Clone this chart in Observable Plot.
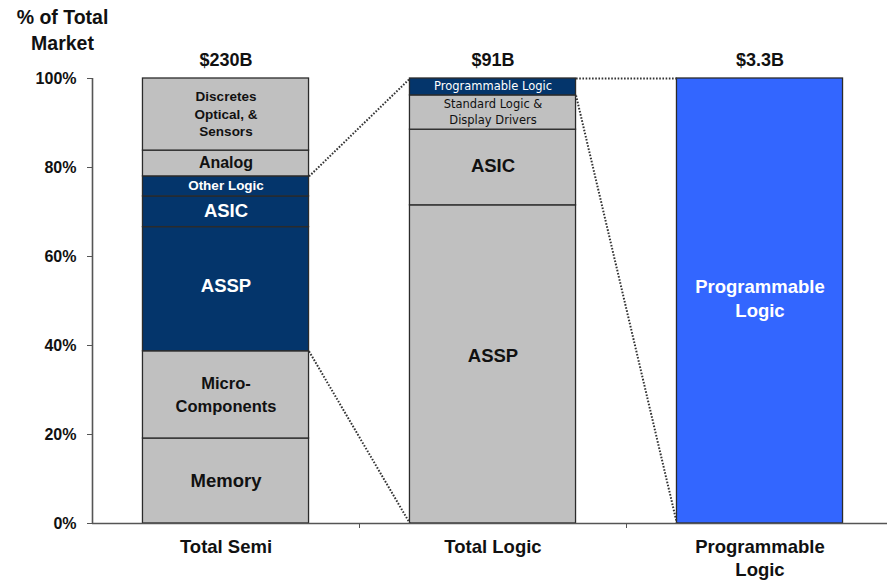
<!DOCTYPE html>
<html>
<head>
<meta charset="utf-8">
<script src="https://cdn.jsdelivr.net/npm/d3@7"></script>
<script src="https://cdn.jsdelivr.net/npm/@observablehq/plot@0.6"></script>
<style>
  html, body { margin: 0; padding: 0; background: #fff; overflow: hidden; }
  #chart svg { display: block; }
</style>
</head>
<body>
<div id="chart"></div>
<script>
// ---- data ----
const categories = ["Total Semi", "Total Logic", "Programmable\nLogic"];
const totals = ["$230B", "$91B", "$3.3B"];

const semiNames = ["Memory", "Micro-\nComponents", "ASSP", "ASIC", "Other Logic", "Analog", "Discretes\nOptical, &\nSensors"];
const semiValues = [19.1, 19.6, 27.9, 6.9, 4.5, 5.8, 16.2];
const semiFocus = ["ASSP", "ASIC", "Other Logic"];

const logicNames = ["ASSP", "ASIC", "Standard Logic &\nDisplay Drivers", "Programmable Logic"];
const logicValues = [71.5, 17.0, 7.7, 3.8];
const logicFocus = ["Programmable Logic"];

const progNames = ["Programmable\nLogic"];
const progValues = [100];
const progFocus = ["Programmable\nLogic"];

const yTicks = [0, 20, 40, 60, 80, 100];

// ---- derived tables ----
const bars = [
  {names: semiNames, values: semiValues, focus: semiFocus},
  {names: logicNames, values: logicValues, focus: logicFocus},
  {names: progNames, values: progValues, focus: progFocus}
];
const half = 0.311;
const rows = [];
const spans = [];
bars.forEach((b, i) => {
  let acc = 0;
  let lo = Infinity, hi = -Infinity;
  b.names.forEach((n, j) => {
    const y1 = acc, y2 = acc + b.values[j];
    acc = y2;
    const focused = b.focus.includes(n);
    if (focused) { lo = Math.min(lo, y1); hi = Math.max(hi, y2); }
    rows.push({bar: i, name: n, y1, y2, x1: i + 0.5 - half, x2: i + 0.5 + half,
               level: focused ? (i === 2 ? 2 : 1) : 0});
  });
  spans.push({lo, hi});
});
const links = [];
for (let i = 0; i < bars.length - 1; i++) {
  links.push({x1: i + 0.5 + half, y1: spans[i].hi, x2: i + 1.5 - half, y2: 100});
  links.push({x1: i + 0.5 + half, y1: spans[i].lo, x2: i + 1.5 - half, y2: 0});
}

// ---- styles ----
const levelFill = ["#C0C0C0", "#04356B", "#3366FF"];
const BOLD = "'Liberation Sans', Arial, sans-serif";
const THIN = "'DejaVu Sans', Verdana, sans-serif";
function labelStyle(r) {
  const key = r.bar + "|" + r.name;
  const s = {
    "0|Discretes\nOptical, &\nSensors": [13.5, BOLD, "bold", 1.3],
    "0|Analog": [16, BOLD, "bold", 1.2],
    "0|Other Logic": [13.5, BOLD, "bold", 1.2],
    "0|ASIC": [18.5, BOLD, "bold", 1.2],
    "0|ASSP": [18.5, BOLD, "bold", 1.2],
    "0|Micro-\nComponents": [16.5, BOLD, "bold", 1.35],
    "0|Memory": [18.5, BOLD, "bold", 1.2],
    "1|Programmable Logic": [11.5, THIN, "normal", 1.2],
    "1|Standard Logic &\nDisplay Drivers": [11.5, THIN, "normal", 1.35],
    "1|ASIC": [18.5, BOLD, "bold", 1.2],
    "1|ASSP": [18.5, BOLD, "bold", 1.2],
    "2|Programmable\nLogic": [18.5, BOLD, "bold", 1.3]
  }[key];
  return {fontSize: s[0], fontFamily: s[1], fontWeight: s[2], lineHeight: s[3]};
}
const labelDy = {"1|ASSP": -10, "0|ASSP": -4, "2|Programmable\nLogic": -4, "1|ASIC": -3};

const labelMarks = rows.map(r => {
  const st = labelStyle(r);
  const k = r.bar + "|" + r.name;
  return Plot.text([r], {
    x: d => (d.x1 + d.x2) / 2,
    y: d => (d.y1 + d.y2) / 2,
    text: "name",
    fill: r.level ? "#FFFFFF" : "#111111",
    textAnchor: "middle",
    lineAnchor: "middle",
    dy: k in labelDy ? labelDy[k] : -1.5,
    ...st
  });
});

const chart = Plot.plot({
  width: 887,
  height: 582,
  marginLeft: 92,
  marginRight: 0,
  marginTop: 78,
  marginBottom: 59,
  x: {domain: [0, 3], range: [92, 893], axis: null},
  y: {domain: [0, 100], axis: null},
  style: {fontFamily: BOLD, fontWeight: "bold", fontSize: "16px", color: "#111", background: "#fff"},
  marks: [
    Plot.rect(rows, {x1: "x1", x2: "x2", y1: "y1", y2: "y2",
      fill: d => levelFill[d.level], stroke: "#2b2b2b", strokeWidth: 1.3}),
    Plot.link(links, {x1: "x1", y1: "y1", x2: "x2", y2: "y2",
      stroke: "#333", strokeWidth: 2, strokeDasharray: "1.6,1.6"}),
    Plot.ruleY([0], {stroke: "#555", strokeWidth: 1.6}),
    Plot.ruleX([0], {y1: 0, y2: 100, stroke: "#555", strokeWidth: 1.6}),
    Plot.axisY({ticks: yTicks, tickFormat: d => d + "%", tickSize: 5, tickPadding: 11,
      stroke: "#555", fontSize: 16, fontWeight: "bold", fill: "#111"}),
    Plot.axisX({ticks: [1, 2], tickSize: 5, tickFormat: () => "", stroke: "#555"}),
    ...labelMarks,
    Plot.text(categories, {x: (d, i) => i + 0.5, y: () => 0, text: d => d,
      lineAnchor: "top", dy: 13, fontSize: 18.5, fontWeight: "bold", lineHeight: 1.25, fill: "#111"}),
    Plot.text(totals, {x: (d, i) => i + 0.5, y: () => 100, text: d => d,
      lineAnchor: "middle", dy: -18, fontSize: 18, fontWeight: "bold", fill: "#111"}),
    Plot.text(["% of Total\nMarket"], {frameAnchor: "top-left", text: d => d,
      dx: -30, dy: -73, lineAnchor: "top", textAnchor: "middle",
      fontSize: 19.5, fontWeight: "bold", lineHeight: 1.33, fill: "#111"})
  ]
});
document.getElementById("chart").append(chart);
</script>
</body>
</html>
